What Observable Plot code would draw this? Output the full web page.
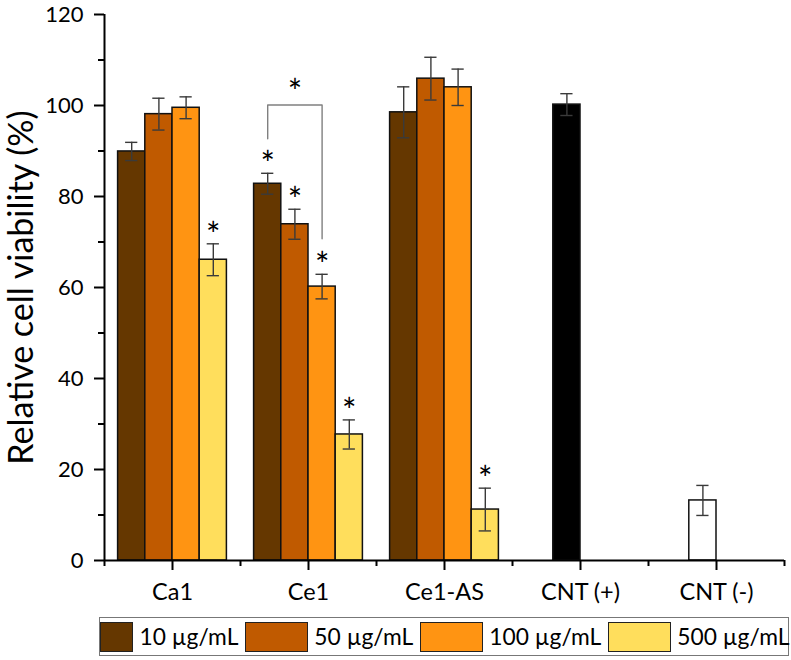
<!DOCTYPE html>
<html>
<head>
<meta charset="utf-8">
<script src="https://cdn.jsdelivr.net/npm/d3@7"></script>
<script src="https://cdn.jsdelivr.net/npm/@observablehq/plot@0.6"></script>
<style>
  body { margin: 0; background: #fff; font-family: Lato, sans-serif; }
  #wrap { position: relative; width: 791px; height: 660px; overflow: hidden; }
  #legend { position: absolute; left: 99px; top: 617px; width: 690px; height: 39px;
            border: 1px solid #777; box-sizing: border-box; display: flex; align-items: center;
            gap: 6.5px; padding: 0; }
  .sw { height: 30px; border: 1px solid #222; box-sizing: border-box; flex: none; }
  .lt { font-size: 22.8px; color: #000; white-space: nowrap; flex: none; line-height: 1; }
</style>
</head>
<body>
<div id="wrap">
  <div id="chart"></div>
  <div id="legend"></div>
</div>
<script>
// ---- data ----
const categories = ["Ca1", "Ce1", "Ce1-AS", "CNT (+)", "CNT (-)"];
const concentrations = ["10 µg/mL", "50 µg/mL", "100 µg/mL", "500 µg/mL"];
const concColors = ["#653700", "#C05A00", "#FF9412", "#FFDE5C"];

const ca1Mean   = [89.9, 98.1, 99.5, 66.1];
const ca1Sd     = [2.0, 3.5, 2.4, 3.5];
const ce1Mean   = [82.8, 73.9, 60.2, 27.7];
const ce1Sd     = [2.3, 3.3, 2.7, 3.2];
const ce1asMean = [98.5, 105.9, 104.0, 11.2];
const ce1asSd   = [5.6, 4.7, 4.0, 4.7];

const controlNames = ["CNT (+)", "CNT (-)"];
const controlMean  = [100.2, 13.2];
const controlSd    = [2.4, 3.3];
const controlFill  = ["#000000", "#FFFFFF"];

// significance stars: [category, concentration index]
const stars = [["Ca1", 3], ["Ce1", 0], ["Ce1", 1], ["Ce1", 2], ["Ce1", 3], ["Ce1-AS", 3]];
// bracket between Ce1 10 µg/mL and Ce1 100 µg/mL
const bracketFrom = ["Ce1", 0, 92.7];
const bracketTo   = ["Ce1", 2, 70.7];
const bracketTop  = 100.1;
const bracketStarY = 104.8;

const yTicks = [0, 20, 40, 60, 80, 100, 120];
const yMinorTicks = [10, 30, 50, 70, 90, 110];
const yLabel = "Relative cell viability (%)";

// ---- build table ----
const slotW = 0.2, groupPad = 0.1;
const slotStart = (cat, s) => categories.indexOf(cat) + groupPad + s * slotW;
const rows = [];
[["Ca1", ca1Mean, ca1Sd], ["Ce1", ce1Mean, ce1Sd], ["Ce1-AS", ce1asMean, ce1asSd]].forEach(([cat, m, sd]) => {
  m.forEach((v, s) => rows.push({cat, slot: s, mean: v, sd: sd[s], fill: concColors[s]}));
});
controlNames.forEach((cat, i) => rows.push({cat, slot: 1, mean: controlMean[i], sd: controlSd[i], fill: controlFill[i]}));
rows.forEach(d => { d.x1 = slotStart(d.cat, d.slot); d.x2 = d.x1 + slotW; d.xc = d.x1 + slotW / 2; });

const capHalf = 0.045;
const caps = rows.flatMap(d => [
  {y: d.mean - d.sd, x1: d.xc - capHalf, x2: d.xc + capHalf},
  {y: d.mean + d.sd, x1: d.xc - capHalf, x2: d.xc + capHalf}
]);
const starRows = stars.map(([cat, s]) => rows.find(d => d.cat === cat && d.slot === s));
const bx1 = slotStart(bracketFrom[0], bracketFrom[1]) + slotW / 2;
const bx2 = slotStart(bracketTo[0], bracketTo[1]) + slotW / 2;
const bracket = [
  {x: bx1, y: bracketFrom[2]}, {x: bx1, y: bracketTop},
  {x: bx2, y: bracketTop}, {x: bx2, y: bracketTo[2]}
];
const bracketStar = [{x: (bx1 + bx2) / 2, y: bracketStarY}];

const majorX = categories.map((c, i) => i + 0.5);
const minorX = d3.range(categories.length + 1);

const chart = Plot.plot({
  width: 791,
  height: 612,
  marginLeft: 104,
  marginRight: 7,
  marginTop: 14,
  marginBottom: 52,
  style: {fontFamily: "Lato, sans-serif", color: "#000", background: "#fff", overflow: "visible"},
  x: {domain: [0, categories.length], label: null},
  y: {domain: [0, 120], label: null},
  color: {type: "identity"},
  marks: [
    Plot.rect(rows, {x1: "x1", x2: "x2", y1: 0, y2: "mean", fill: "fill", stroke: "#111", strokeWidth: 1.5}),
    Plot.ruleX(rows, {x: "xc", y1: d => d.mean - d.sd, y2: d => d.mean + d.sd, stroke: "#3a3a3a", strokeWidth: 1.4}),
    Plot.ruleY(caps, {y: "y", x1: "x1", x2: "x2", stroke: "#3a3a3a", strokeWidth: 1.4}),
    Plot.line(bracket, {x: "x", y: "y", stroke: "#808080", strokeWidth: 1.4}),
    Plot.text(starRows, {x: "xc", y: d => d.mean + d.sd, text: () => "*", fontSize: 34, dy: -8, fill: "#000"}),
    Plot.text(bracketStar, {x: "x", y: "y", text: () => "*", fontSize: 34, dy: 9, fill: "#000"}),
    // y axis title
    Plot.text([yLabel], {frameAnchor: "left", textAnchor: "middle", text: d => d, rotate: -90, dx: -72, lineAnchor: "bottom", fontSize: 34, fill: "#000"}),
    // y ticks + labels
    Plot.axisY({ticks: yTicks, tickSize: 10, tickFormat: () => "", strokeWidth: 2, label: null}),
    Plot.axisY({ticks: yMinorTicks, tickSize: 6, tickFormat: () => "", strokeWidth: 2, label: null}),
    Plot.text(yTicks, {x: 0, y: d => d, text: d => String(d), textAnchor: "end", dx: -21, fontSize: 22, fill: "#000"}),
    // x ticks + labels
    Plot.axisX({ticks: majorX, tickSize: 10, tickFormat: () => "", strokeWidth: 2, label: null}),
    Plot.axisX({ticks: minorX, tickSize: 6, tickFormat: () => "", strokeWidth: 2, label: null}),
    Plot.text(categories, {x: (d, i) => i + 0.5, y: 0, text: d => d, lineAnchor: "top", dy: 23, fontSize: 23.5, fill: "#000"}),
    // axis lines
    Plot.ruleY([0], {strokeWidth: 2}),
    Plot.ruleX([0], {strokeWidth: 2})
  ]
});
document.getElementById("chart").appendChild(chart);

// ---- legend ----
const legend = document.getElementById("legend");
const swatchWidths = [33, 63, 63, 63];
concentrations.forEach((label, i) => {
  const sw = document.createElement("div");
  sw.className = "sw";
  sw.style.width = swatchWidths[i] + "px";
  sw.style.background = concColors[i];
  legend.appendChild(sw);
  const t = document.createElement("span");
  t.className = "lt";
  t.textContent = label;
  legend.appendChild(t);
});
</script>
</body>
</html>
